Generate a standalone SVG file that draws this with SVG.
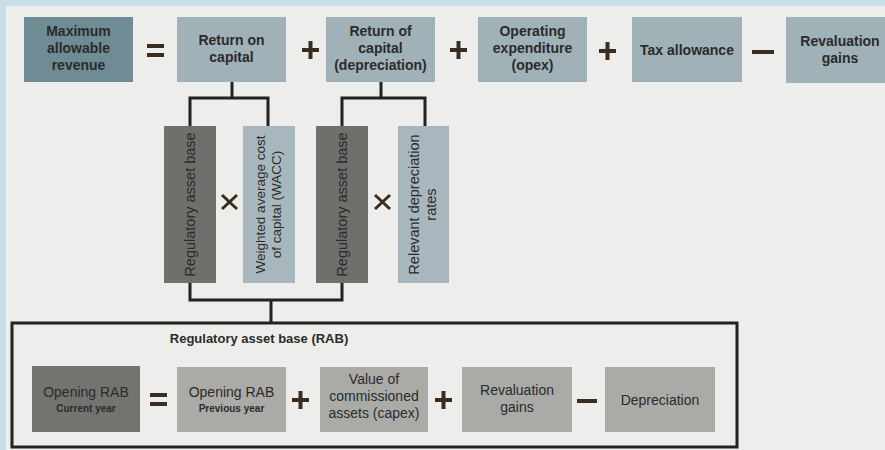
<svg xmlns="http://www.w3.org/2000/svg" width="885" height="450" viewBox="0 0 885 450">
<style>
.t{font-family:"Liberation Sans",Arial,sans-serif;font-weight:bold;font-size:14px;fill:#2b2b2b;text-anchor:middle}
.r{font-family:"Liberation Sans",Arial,sans-serif;font-size:14px;fill:#2b2b2b;text-anchor:middle}
.v{font-family:"Liberation Sans",Arial,sans-serif;font-size:14.5px;fill:#2b2b2b;text-anchor:middle}
.w{font-family:"Liberation Sans",Arial,sans-serif;font-size:13.5px;fill:#2b2b2b;text-anchor:middle}
.s{font-family:"Liberation Sans",Arial,sans-serif;font-weight:bold;font-size:10px;fill:#2b2b2b;text-anchor:middle}
.op{stroke:#3b2c20;stroke-width:4;fill:none}
.x{stroke:#3b2c20;stroke-width:3;fill:none}
.c{stroke:#222;stroke-width:3;fill:none}
.b1{fill:#6f8b94}
.b2{fill:#a0b1b8}
.d1{fill:#6f6f6c}
.d2{fill:#a8b7be}
.g1{fill:#737370}
.g2{fill:#aaaaa7}
</style>
<rect x="0" y="0" width="885" height="450" fill="#c9dde9"/>
<rect x="6" y="6" width="879" height="444" fill="#edeeeb"/>

<g id="connectors">
<path class="c" d="M232 81V98M190 127V98H268V127"/>
<path class="c" d="M381 82V98M342 127V98H425V127"/>
<path class="c" d="M190 283V300H342V283M271 300V323"/>
</g>

<g id="max-revenue"><rect class="b1" x="24" y="17" width="109" height="65"/>
<text class="t" x="78.5" y="36">Maximum</text><text class="t" x="78.5" y="53">allowable</text><text class="t" x="78.5" y="70">revenue</text></g>
<g id="op-eq1"><path class="op" d="M147 46H164M147 55H164"/></g>
<g id="return-on-capital"><rect class="b2" x="177" y="17" width="109" height="65"/>
<text class="t" x="231.5" y="45">Return on</text><text class="t" x="231.5" y="62">capital</text></g>
<g id="op-plus1"><path class="op" d="M302 50H319M310.5 41V59"/></g>
<g id="return-of-capital"><rect class="b2" x="326" y="17" width="109" height="65"/>
<text class="t" x="380.5" y="36">Return of</text><text class="t" x="380.5" y="53">capital</text><text class="t" x="380.5" y="70">(depreciation)</text></g>
<g id="op-plus2"><path class="op" d="M450 50H467M458.5 41V59"/></g>
<g id="opex"><rect class="b2" x="478" y="17" width="109" height="65"/>
<text class="t" x="532.5" y="36">Operating</text><text class="t" x="532.5" y="53">expenditure</text><text class="t" x="532.5" y="70">(opex)</text></g>
<g id="op-plus3"><path class="op" d="M599 51H616M607.5 42V60"/></g>
<g id="tax"><rect class="b2" x="632" y="17" width="110" height="65"/>
<text class="t" x="687" y="55">Tax allowance</text></g>
<g id="op-minus1"><path class="op" d="M752 52H774"/></g>
<g id="revaluation-top"><rect class="b2" x="786" y="17" width="110" height="66"/>
<text class="t" x="840" y="46">Revaluation</text><text class="t" x="840" y="63">gains</text></g>

<g id="rab1"><rect class="d1" x="164" y="126" width="52" height="157"/>
<text class="v" transform="translate(195 204.5) rotate(-90)">Regulatory asset base</text></g>
<g id="op-x1"><path class="x" d="M222 195L237 209M237 195L222 209"/></g>
<g id="wacc"><rect class="d2" x="243" y="126" width="52" height="157"/>
<text class="w" transform="translate(265 204.5) rotate(-90)">Weighted average cost</text>
<text class="w" transform="translate(281 204.5) rotate(-90)">of capital (WACC)</text></g>
<g id="rab2"><rect class="d1" x="316" y="126" width="52" height="157"/>
<text class="v" transform="translate(347 204.5) rotate(-90)">Regulatory asset base</text></g>
<g id="op-x2"><path class="x" d="M375 195L390 209M390 195L375 209"/></g>
<g id="dep-rates"><rect class="d2" x="398" y="126" width="51" height="157"/>
<text class="v" transform="translate(419 204.5) rotate(-90)">Relevant depreciation</text>
<text class="v" transform="translate(436 204.5) rotate(-90)">rates</text></g>

<g id="rab-frame"><rect x="12" y="323" width="725" height="124" fill="none" stroke="#222" stroke-width="3"/>
<text class="t" style="font-size:13px" x="259" y="343">Regulatory asset base (RAB)</text></g>
<g id="opening-current"><rect class="g1" x="32" y="366" width="108" height="66"/>
<text class="r" x="86" y="397">Opening RAB</text><text class="s" x="86" y="412">Current year</text></g>
<g id="op-eq2"><path class="op" d="M150 395H167M150 404H167"/></g>
<g id="opening-previous"><rect class="g2" x="177" y="367" width="109" height="65"/>
<text class="r" x="231.5" y="397">Opening RAB</text><text class="s" x="231.5" y="412">Previous year</text></g>
<g id="op-plus4"><path class="op" d="M292 400H309M300.5 391V409"/></g>
<g id="capex"><rect class="g2" x="320" y="367" width="108" height="65"/>
<text class="r" x="374" y="384">Value of</text><text class="r" x="374" y="401">commissioned</text><text class="r" x="374" y="418">assets (capex)</text></g>
<g id="op-plus5"><path class="op" d="M435 400H452M443.5 391V409"/></g>
<g id="revaluation-bottom"><rect class="g2" x="462" y="367" width="110" height="65"/>
<text class="r" x="517" y="395">Revaluation</text><text class="r" x="517" y="412">gains</text></g>
<g id="op-minus2"><path class="op" d="M577 401H597"/></g>
<g id="depreciation"><rect class="g2" x="605" y="367" width="110" height="65"/>
<text class="r" x="660" y="405">Depreciation</text></g>
</svg>
